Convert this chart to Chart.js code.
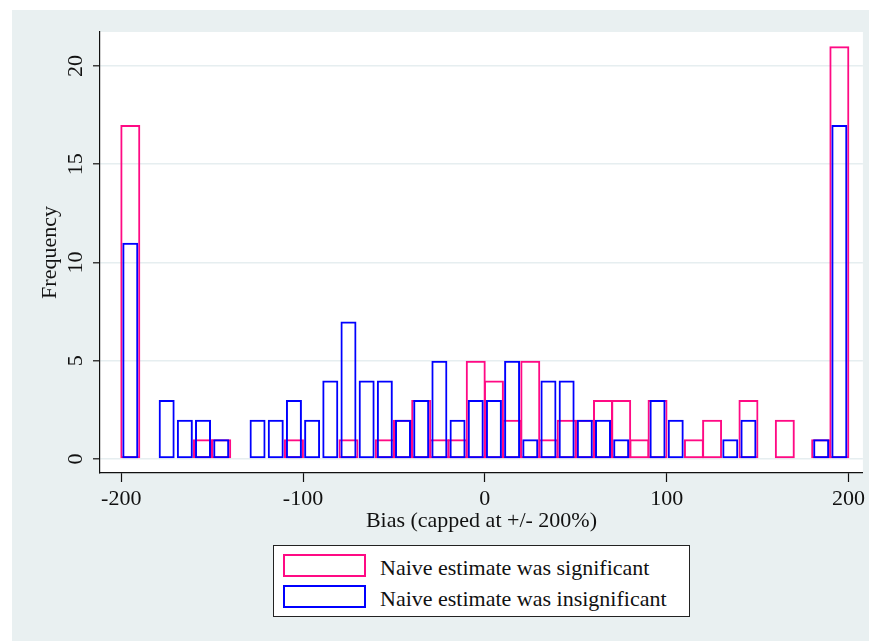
<!DOCTYPE html>
<html>
<head>
<meta charset="utf-8">
<title>Bias histogram</title>
<script src="https://cdn.jsdelivr.net/npm/chart.js@4"></script>
<style>
  body { margin: 0; background: #fff; }
  #wrap { position: relative; width: 869px; height: 641px; overflow: hidden; }
  #bg { position: absolute; left: 12px; top: 10px; right: 0; bottom: 0; background: #e9f0f1; }
  #biasChart { position: absolute; left: 0; top: 0; }
  #legend {
    position: absolute; left: 273px; top: 545px; width: 417px; height: 72px;
    box-sizing: border-box; border: 1px solid #222; background: #fff;
    font-family: 'Liberation Serif', 'Times New Roman', serif; font-size: 22px; color: #111;
  }
  .sw { position: absolute; left: 9px; width: 83px; height: 23px; box-sizing: border-box; border: 2px solid; }
  .lt { position: absolute; left: 106px; line-height: 22px; white-space: nowrap; }
</style>
</head>
<body>
<div id="wrap">
  <div id="bg"></div>
  <canvas id="biasChart" width="869" height="641"></canvas>
  <div id="legend"></div>
</div>
<script>
// bins of width 10, from -200 to 200 (centers)
const binCenters = [-195, -185, -175, -165, -155, -145, -135, -125, -115, -105,
                    -95, -85, -75, -65, -55, -45, -35, -25, -15, -5,
                    5, 15, 25, 35, 45, 55, 65, 75, 85, 95,
                    105, 115, 125, 135, 145, 155, 165, 175, 185, 195];
const significant = [17, 0, 0, 0, 1, 1, 0, 0, 0, 1,
                     0, 0, 1, 0, 1, 2, 3, 1, 1, 5,
                     4, 2, 5, 1, 2, 2, 3, 3, 1, 3,
                     0, 1, 2, 0, 3, 0, 2, 0, 1, 21];
const insignificant = [11, 0, 3, 2, 2, 1, 0, 2, 2, 3,
                       2, 4, 7, 4, 4, 2, 3, 5, 2, 3,
                       3, 5, 1, 4, 4, 2, 2, 1, 0, 3,
                       2, 0, 0, 1, 2, 0, 0, 0, 1, 17];
const xTicks = [-200, -100, 0, 100, 200];
const yTicks = [0, 5, 10, 15, 20];
const seriesNames = ['Naive estimate was significant', 'Naive estimate was insignificant'];

const pink = '#ff0a84';
const blue = '#0000ff';
const ink = '#111';

Chart.defaults.font.family = "'Liberation Serif', 'Times New Roman', serif";
Chart.defaults.font.size = 22;
Chart.defaults.color = ink;

function toPoints(counts) {
  return binCenters.map((x, i) => ({ x: x, y: counts[i] > 0 ? counts[i] : null }));
}

// white plot region on the grey background
const plotBg = {
  id: 'plotBg',
  beforeDraw(chart) {
    const a = chart.chartArea, ctx = chart.ctx;
    ctx.save();
    ctx.fillStyle = '#fff';
    ctx.fillRect(a.left, a.top, a.right - a.left, a.bottom - a.top);
    ctx.restore();
  }
};

// y tick labels are turned on their side, like the original
const sideYLabels = {
  id: 'sideYLabels',
  afterDraw(chart) {
    const y = chart.scales.y, ctx = chart.ctx;
    ctx.save();
    ctx.font = "22px 'Liberation Serif', serif";
    ctx.fillStyle = ink;
    ctx.textAlign = 'center';
    ctx.textBaseline = 'alphabetic';
    y.ticks.forEach(t => {
      ctx.save();
      ctx.translate(81.5, y.getPixelForValue(t.value));
      ctx.rotate(-Math.PI / 2);
      ctx.fillText(String(t.value), 0, 0);
      ctx.restore();
    });
    ctx.restore();
  }
};

const barStyle = {
  backgroundColor: 'rgba(0,0,0,0)',
  borderWidth: 2,
  borderSkipped: false,
  categoryPercentage: 1,
  grouped: false,
  inflateAmount: 0
};

new Chart(document.getElementById('biasChart'), {
  type: 'bar',
  data: {
    datasets: [
      Object.assign({ label: seriesNames[0], data: toPoints(significant), borderColor: pink, barPercentage: 1.1, order: 2 }, barStyle),
      Object.assign({ label: seriesNames[1], data: toPoints(insignificant), borderColor: blue, barPercentage: 0.88, order: 1 }, barStyle)
    ]
  },
  options: {
    responsive: false,
    animation: false,
    events: [],
    layout: { padding: { left: 0, top: 32, right: 3, bottom: 0 } },
    plugins: { legend: { display: false }, tooltip: { enabled: false } },
    scales: {
      x: {
        type: 'linear',
        min: -211.67,
        max: 207.94,
        offset: false,
        afterBuildTicks: s => { s.ticks = xTicks.map(v => ({ value: v })); },
        afterFit: s => { s.height = 168; },
        grid: { offset: false, drawOnChartArea: false, drawTicks: true, tickLength: 9, tickColor: ink, tickWidth: 1.2 },
        border: { display: true, color: ink, width: 1.2 },
        ticks: { color: ink, padding: 4, maxRotation: 0, autoSkip: false },
        title: { display: true, text: 'Bias (capped at +/- 200%)', color: ink, padding: { top: 0, bottom: 107 } }
      },
      y: {
        min: -0.712,
        max: 21.73,
        afterBuildTicks: s => { s.ticks = yTicks.map(v => ({ value: v })); },
        afterFit: s => { s.width = 100; },
        grid: { color: '#e6eef0', lineWidth: 1.6, tickLength: 7, tickColor: ink, tickWidth: 1.2 },
        border: { color: ink, width: 1.2 },
        ticks: { display: false },
        title: { display: true, text: 'Frequency', color: ink, padding: { top: 37, bottom: 0 } }
      }
    }
  },
  plugins: [plotBg, sideYLabels]
});

// legend box under the plot
const legend = document.getElementById('legend');
[pink, blue].forEach((c, i) => {
  const sw = document.createElement('div');
  sw.className = 'sw';
  sw.style.borderColor = c;
  sw.style.top = (8 + 31 * i) + 'px';
  legend.appendChild(sw);
  const lt = document.createElement('div');
  lt.className = 'lt';
  lt.style.top = (10.6 + 31 * i) + 'px';
  lt.textContent = seriesNames[i];
  legend.appendChild(lt);
});
</script>
</body>
</html>
